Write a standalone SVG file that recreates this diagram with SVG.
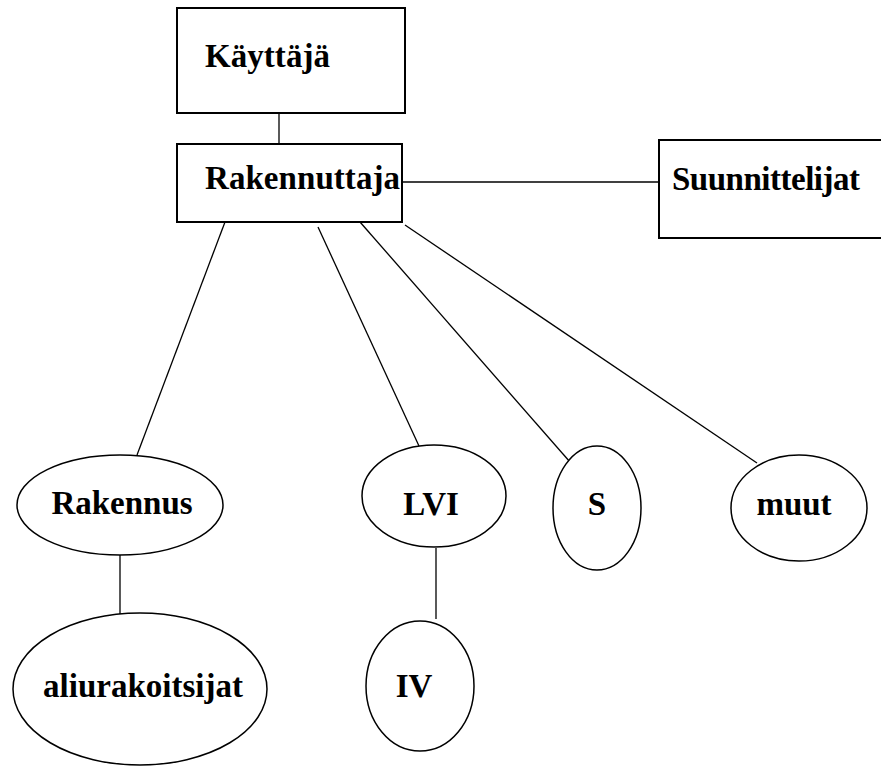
<svg xmlns="http://www.w3.org/2000/svg" width="881" height="767" viewBox="0 0 881 767">
<style>
.box{fill:#fff;stroke:#000;stroke-width:2}
.ell{fill:#fff;stroke:#000;stroke-width:1.5}
.ln{stroke:#000;stroke-width:1.3;fill:none}
text{font-family:"Liberation Serif","Times New Roman",serif;font-weight:bold;font-size:33px;fill:#000}
</style>
<rect width="881" height="767" fill="#fff"/>
<g id="connectors">
<line class="ln" x1="279" y1="113" x2="279" y2="144"/>
<line class="ln" x1="402" y1="182" x2="659" y2="182"/>
<line class="ln" x1="225" y1="222" x2="137" y2="455"/>
<line class="ln" x1="318" y1="227" x2="419" y2="446"/>
<line class="ln" x1="360" y1="222" x2="570" y2="462"/>
<line class="ln" x1="405" y1="225" x2="757" y2="463"/>
<line class="ln" x1="120" y1="555" x2="120" y2="614"/>
<line class="ln" x1="436" y1="548" x2="436" y2="619"/>
</g>
<g id="kayttaja">
<rect class="box" x="177" y="8" width="228" height="105"/>
<text x="205" y="67" textLength="125">Käyttäjä</text>
</g>
<g id="rakennuttaja">
<rect class="box" x="177" y="144" width="225" height="78"/>
<text x="205" y="189" textLength="195">Rakennuttaja</text>
</g>
<g id="suunnittelijat">
<rect class="box" x="659" y="140" width="240" height="98"/>
<text x="672" y="190" textLength="188">Suunnittelijat</text>
</g>
<g id="rakennus">
<ellipse class="ell" cx="120" cy="505" rx="103" ry="50"/>
<text x="122" y="514" text-anchor="middle">Rakennus</text>
</g>
<g id="aliurakoitsijat">
<ellipse class="ell" cx="140" cy="689" rx="127" ry="76"/>
<text x="143" y="697" text-anchor="middle">aliurakoitsijat</text>
</g>
<g id="lvi">
<ellipse class="ell" cx="434" cy="496" rx="72" ry="51"/>
<text x="431" y="515" text-anchor="middle">LVI</text>
</g>
<g id="iv">
<ellipse class="ell" cx="420" cy="686" rx="54" ry="65"/>
<text x="414" y="697" text-anchor="middle">IV</text>
</g>
<g id="s">
<ellipse class="ell" cx="597" cy="508" rx="44" ry="62"/>
<text x="597" y="515" text-anchor="middle">S</text>
</g>
<g id="muut">
<ellipse class="ell" cx="799" cy="508" rx="68" ry="53"/>
<text x="794" y="515" text-anchor="middle">muut</text>
</g>
</svg>
